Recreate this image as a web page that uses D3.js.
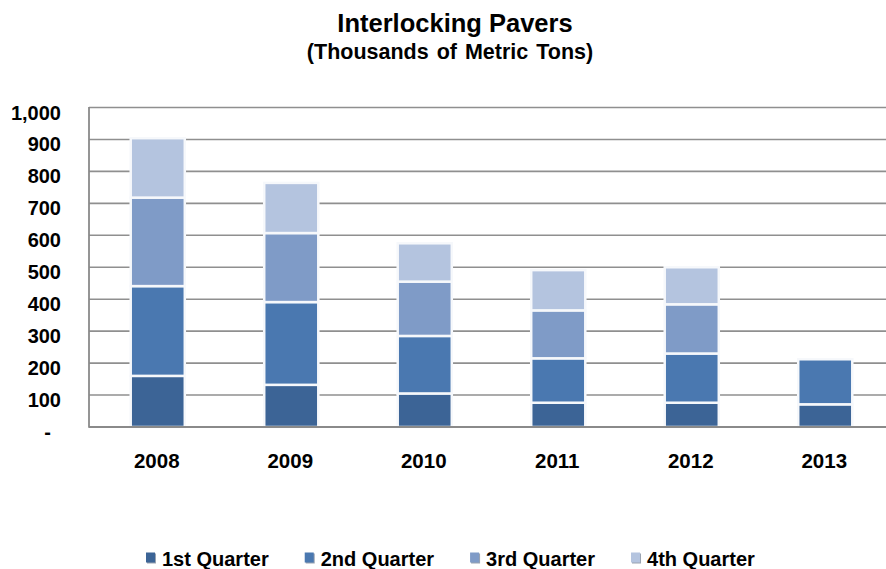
<!DOCTYPE html>
<html>
<head>
<meta charset="utf-8">
<script src="https://cdn.jsdelivr.net/npm/d3@7"></script>
<style>
  html, body { margin: 0; padding: 0; background: #fff; }
  svg { display: block; font-family: "Liberation Sans", Arial, sans-serif; font-weight: bold; }
</style>
</head>
<body>
<svg id="chart" width="886" height="569"></svg>
<script>
// Quarterly shipments of interlocking pavers, thousands of metric tons
const years = ["2008", "2009", "2010", "2011", "2012", "2013"];
const quarters = ["1st Quarter", "2nd Quarter", "3rd Quarter", "4th Quarter"];
const q1 = [160, 132, 105, 76, 76, 71];
const q2 = [281, 259, 180, 139, 154, 141];
const q3 = [277, 216, 170, 150, 154, null];
const q4 = [186, 157, 120, 126, 116, null];
const yTicks = [0, 100, 200, 300, 400, 500, 600, 700, 800, 900, 1000];
const colors = ["#3c6496", "#4a78b0", "#7f9bc7", "#b4c4df"];

const svg = d3.select("#chart");
const W = 886;
const plot = { left: 89, right: 886, top: 107.5, bottom: 427 };

// Table for the stack layout
const rows = years.map((yr, i) => ({
  year: yr,
  "1st Quarter": q1[i] || 0,
  "2nd Quarter": q2[i] || 0,
  "3rd Quarter": q3[i] || 0,
  "4th Quarter": q4[i] || 0
}));
const stacked = d3.stack().keys(quarters)(rows);

const x = d3.scaleBand()
  .domain(years)
  .range([91, 892])
  .paddingInner(0.595)
  .paddingOuter(0.2975);

const y = d3.scaleLinear()
  .domain([0, 1000])
  .range([plot.bottom, plot.top]);

// Titles
svg.append("text")
  .attr("x", 455).attr("y", 32)
  .attr("text-anchor", "middle")
  .attr("font-size", 25.5)
  .text("Interlocking Pavers");
svg.append("text")
  .attr("x", 450).attr("y", 58.5)
  .attr("text-anchor", "middle")
  .attr("font-size", 21.5)
  .attr("word-spacing", 2)
  .text("(Thousands of Metric Tons)");

// Horizontal gridlines
svg.append("g")
  .selectAll("line")
  .data(yTicks.filter(d => d > 0))
  .join("line")
  .attr("x1", plot.left).attr("x2", plot.right)
  .attr("y1", d => y(d)).attr("y2", d => y(d))
  .attr("stroke", "#8f8f8f")
  .attr("stroke-width", 1.6);

// Y axis labels (accounting style: zero shown as a dash)
const yAxis = d3.axisLeft(y)
  .tickValues(yTicks)
  .tickSize(0)
  .tickPadding(0)
  .tickFormat(d => d === 0 ? "-\u2002" : d3.format(",")(d));
const gy = svg.append("g")
  .attr("transform", `translate(61,0)`)
  .call(yAxis);
gy.select(".domain").remove();
gy.selectAll("text")
  .attr("font-family", "\"Liberation Sans\", Arial, sans-serif")
  .attr("font-weight", "bold")
  .attr("font-size", 20)
  .attr("fill", "#000")
  .attr("dy", null)
  .attr("y", 11.5);

// Stacked bars
svg.append("g")
  .selectAll("g")
  .data(stacked)
  .join("g")
  .attr("fill", (d, i) => colors[i])
  .selectAll("rect")
  .data(d => d.filter(s => s[1] - s[0] > 0))
  .join("rect")
  .attr("x", d => x(d.data.year))
  .attr("width", x.bandwidth())
  .attr("y", d => y(d[1]))
  .attr("height", d => y(d[0]) - y(d[1]))
  .attr("stroke", "#f6f8fb")
  .attr("stroke-width", 2.5);

// Axis lines
svg.append("line")
  .attr("x1", plot.left).attr("x2", plot.left)
  .attr("y1", y(1000) - 0.5).attr("y2", plot.bottom + 0.8)
  .attr("stroke", "#8a8a8a").attr("stroke-width", 1.8);
svg.append("line")
  .attr("x1", plot.left).attr("x2", plot.right)
  .attr("y1", plot.bottom).attr("y2", plot.bottom)
  .attr("stroke", "#8a8a8a").attr("stroke-width", 1.8);

// X axis labels
const xAxis = d3.axisBottom(x).tickSize(0).tickPadding(0);
const gx = svg.append("g")
  .attr("transform", `translate(-1,0)`)
  .call(xAxis);
gx.select(".domain").remove();
gx.selectAll("text")
  .attr("font-family", "\"Liberation Sans\", Arial, sans-serif")
  .attr("font-weight", "bold")
  .attr("font-size", 20.5)
  .attr("fill", "#000")
  .attr("dy", null)
  .attr("y", 468);

// Legend
const legend = svg.append("g");
let lx = 146;
quarters.forEach((q, i) => {
  const item = legend.append("g").attr("transform", `translate(${lx},0)`);
  item.append("rect")
    .attr("x", 1).attr("y", 553.5).attr("width", 9).attr("height", 10)
    .attr("fill", "#9aa3b0");
  item.append("rect")
    .attr("x", 0).attr("y", 552.5).attr("width", 9).attr("height", 10)
    .attr("fill", colors[i]);
  const t = item.append("text")
    .attr("x", 16).attr("y", 566)
    .attr("font-size", 20)
    .text(q);
  lx += 16 + t.node().getComputedTextLength() + 36;
});
</script>
</body>
</html>
